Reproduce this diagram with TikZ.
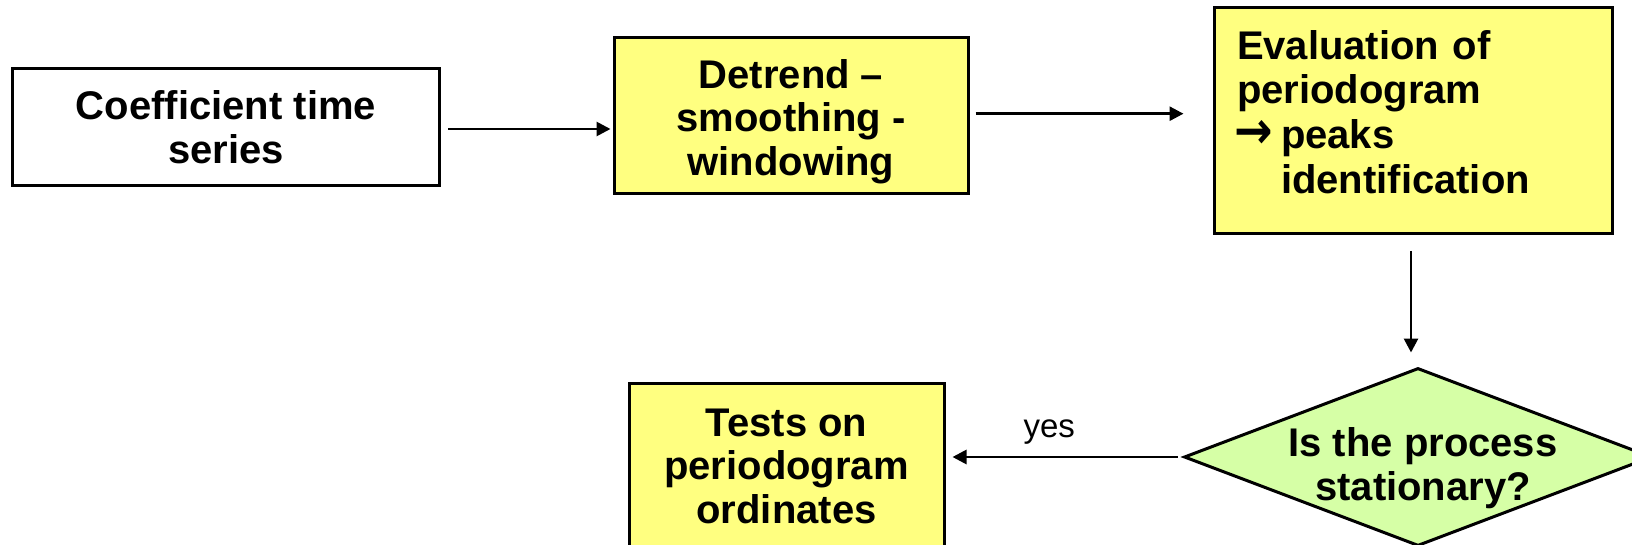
\documentclass[tikz,border=0pt]{standalone}
\usepackage{fontspec}
\setmainfont{Liberation Sans}
\newfontfamily\arrowfont{DejaVu Sans}
\usetikzlibrary{shapes.geometric,arrows.meta}
\definecolor{boxyellow}{RGB}{255,255,128}
\definecolor{diagreen}{RGB}{214,255,166}
\begin{document}
\begin{tikzpicture}[x=1pt,y=-1pt,
  box/.style={draw=black, line width=3pt, rectangle, inner sep=0pt, align=center,
    font=\fontsize{40pt}{43.5pt}\selectfont\bfseries},
  ybox/.style={box, fill=boxyellow},
  arr/.style={line width=2.8pt, -{Triangle[length=14pt,width=14pt]}},
  dia/.style={diamond, draw=black, line width=3pt, fill=diagreen, inner sep=0pt},
  lbl/.style={font=\fontsize{40pt}{43.5pt}\selectfont\bfseries, align=center, inner sep=0pt},
  small/.style={font=\fontsize{33pt}{38pt}\selectfont, inner sep=0pt},
]
\useasboundingbox (0,0) rectangle (1632,545);
\clip (0,0) rectangle (1632,545);

\node[box, fill=white, minimum width=427pt, minimum height=117pt] (b1) at (226,127)
  {Coefficient time\\series};
\node[ybox, minimum width=354pt, minimum height=156pt] (b2) at (791,115.7)
  {\rule{0pt}{41pt}Detrend --\\smoothing -\\windowing};
\node[ybox, minimum height=226pt, text width=352pt, inner xsep=23pt, inner ysep=0pt, align=left,
  font=\fontsize{40pt}{44.7pt}\selectfont\bfseries] (b3) at (1413,120.3)
  {Evaluation of\\periodogram\\\makebox[44pt][l]{\hspace*{-3pt}\arrowfont\bfseries\scalebox{1.15}[1.3]{→}}peaks\\\hspace*{44pt}identification\rule[-17pt]{0pt}{0pt}};
\node[ybox, minimum width=315pt, minimum height=166pt] (b4) at (786.5,466)
  {Tests on\\periodogram\\ordinates};
\node[dia, minimum width=468pt, minimum height=178pt] (dec) at (1418,457) {};
\node[lbl] (dectext) at (1423,468) {Is the process\\stationary?};

\draw[arr] ([xshift=7pt,yshift=-2pt]b1.east) -- ([xshift=-2pt,yshift=-2pt]b1.east -| b2.west);
\draw[arr] ([xshift=6pt,yshift=2pt]b2.east) -- ([xshift=-29pt,yshift=2pt]b2.east -| b3.west);
\draw[arr] ([xshift=-2pt,yshift=-16pt]b3.south) -- ([xshift=-2pt,yshift=14pt]b3.south |- dec.north);
\draw[arr] ([xshift=-5pt]dec.west) -- ([xshift=7pt]dec.west -| b4.east)
  node[small, pos=0.57, above=11pt] (yes) {yes};
\end{tikzpicture}
\end{document}
